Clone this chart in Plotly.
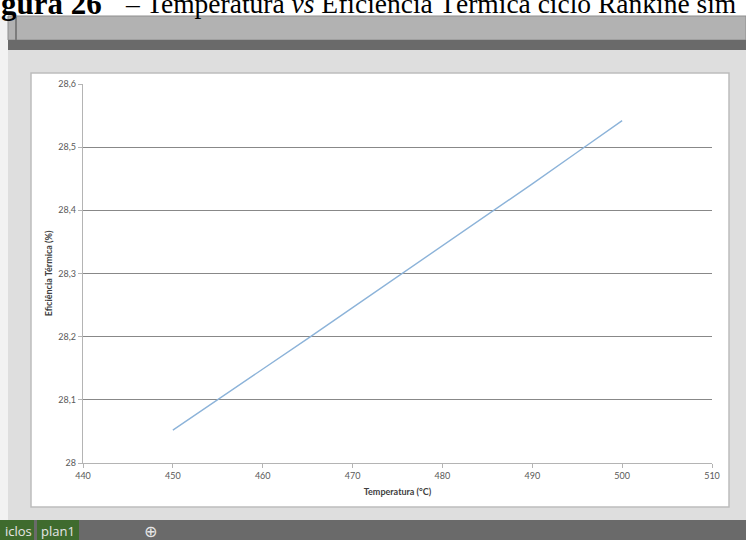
import plotly.graph_objects as go

# Temperatura de entrada na turbina (°C) e eficiência térmica do ciclo (%)
temperatura = [450, 455, 460, 465, 470, 475, 480, 485, 490, 495, 500]
eficiencia = [28.052, 28.100, 28.149, 28.197, 28.246, 28.295,
              28.343, 28.393, 28.442, 28.492, 28.542]

x_ticks = [440, 450, 460, 470, 480, 490, 500, 510]
y_ticks = [28.0, 28.1, 28.2, 28.3, 28.4, 28.5, 28.6]

W, H = 746, 540
PL, PR, PT, PB = 83, 34, 84, 77
PW, PH = W - PL - PR, H - PT - PB


def px(x):
    return (x - PL) / PW


def py(y):
    return (H - PB - y) / PH


def rect(x0, y0, x1, y1, fill, line=None, lw=0):
    return dict(type="rect", xref="paper", yref="paper",
                x0=px(x0), x1=px(x1), y0=py(y1), y1=py(y0),
                fillcolor=fill, line=dict(color=line or fill, width=lw),
                layer="below")


def label(x, y, text, family, size, color, anchor="left"):
    return dict(xref="paper", yref="paper", x=px(x), y=py(y), xanchor=anchor,
                yanchor="middle", showarrow=False, align="left", text=text,
                font=dict(family=family, size=size, color=color))


fig = go.Figure()
fig.add_trace(go.Scatter(
    x=temperatura, y=eficiencia, mode="lines",
    line=dict(color="#8cb3d9", width=1.4), hoverinfo="skip",
))

shapes = [
    # application window background
    rect(0, 16, W, 540, "#f2f2f2"),
    rect(8, 16, W, 40, "#b2b2b2", "#8e8e8e", 1),
    rect(15, 17, 17, 40, "#7c7c7c"),
    rect(8, 40, W, 50, "#6a6a6a"),
    rect(8, 50, W, 520, "#dedede"),
    # chart area
    rect(31, 73, 729, 507, "#ffffff", "#bdbdbd", 1.5),
    # sheet tab bar
    rect(0, 520, W, 540, "#6a6a6a"),
    rect(0, 520, 34, 540, "#3f6b2e"),
    rect(37, 520, 79, 540, "#3f6b2e"),
]

annotations = [
    label(-1, 3, "<b>gura 26</b>", "Liberation Serif", 31, "#000000"),
    label(123, 4, "– Temperatura <i>vs</i> Eficiência Térmica ciclo Rankine sim",
          "Liberation Serif", 27.5, "#000000"),
    label(18, 531, "iclos", "Open Sans", 13, "#e6e6e6", "center"),
    label(58, 531, "plan1", "Open Sans", 13, "#e6e6e6", "center"),
    label(150, 531, "⊕", "DejaVu Sans", 16, "#e6e6e6", "center"),
]

fig.update_layout(
    width=W, height=H,
    margin=dict(l=PL, r=PR, t=PT, b=PB),
    paper_bgcolor="#ffffff", plot_bgcolor="#ffffff",
    separators=",.",
    showlegend=False,
    shapes=shapes,
    annotations=annotations,
    xaxis=dict(
        range=[440, 510], tickvals=x_ticks,
        showgrid=False, zeroline=False,
        showline=True, linecolor="#b4b4b4", linewidth=1.3,
        ticks="outside", ticklen=4, tickcolor="#b4b4b4",
        tickfont=dict(family="Lato", size=9, color="#595959"),
        title=dict(text="<b>Temperatura (°C)</b>", standoff=8,
                   font=dict(family="Lato", size=9, color="#404040")),
    ),
    yaxis=dict(
        range=[28, 28.6], tickvals=y_ticks, tickformat=".1~f",
        showgrid=True, gridcolor="#888888", gridwidth=1,
        zeroline=False,
        showline=True, linecolor="#b4b4b4", linewidth=1.3,
        ticks="outside", ticklen=4, tickcolor="#b4b4b4",
        tickfont=dict(family="Lato", size=9, color="#595959"),
        title=dict(text="<b>Eficiência Térmica (%)</b>", standoff=4,
                   font=dict(family="Lato", size=9, color="#404040")),
    ),
)

fig.write_html("out.html")
